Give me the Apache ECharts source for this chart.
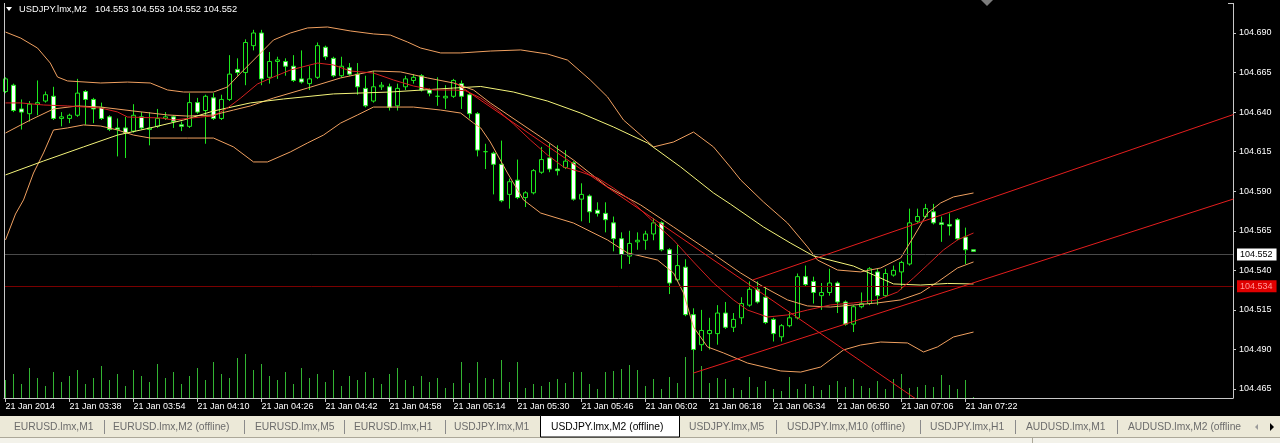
<!DOCTYPE html>
<html><head><meta charset="utf-8">
<script src="https://cdn.jsdelivr.net/npm/echarts@6/dist/echarts.min.js"></script>
<style>html,body{margin:0;padding:0;background:#000;overflow:hidden}#c{width:1280px;height:443px}</style>
</head><body><div id="c"></div>
<script>
// ---------- data ----------
const TIME_LABELS = ['21 Jan 2014','21 Jan 03:38','21 Jan 03:54','21 Jan 04:10','21 Jan 04:26','21 Jan 04:42','21 Jan 04:58','21 Jan 05:14','21 Jan 05:30','21 Jan 05:46','21 Jan 06:02','21 Jan 06:18','21 Jan 06:34','21 Jan 06:50','21 Jan 07:06','21 Jan 07:22'];
const LABEL_BARS = [0,8,16,24,32,40,48,56,64,72,80,88,96,104,112,120];
const PRICE_TICKS = [104.465,104.490,104.515,104.540,104.565,104.590,104.615,104.640,104.665,104.690];

const OPEN = [104.653,104.657,104.642,104.639,104.645,104.647,104.650,104.636,104.636,104.638,
104.653,104.648,104.643,104.637,104.630,104.630,104.628,104.637,104.629,104.631,
104.636,104.637,104.632,104.631,104.646,104.641,104.649,104.636,104.648,104.667,
104.665,104.682,104.690,104.662,104.672,104.672,104.669,104.661,104.658,104.662,
104.681,104.674,104.663,104.668,104.664,104.655,104.647,104.656,104.656,104.644,
104.656,104.660,104.663,104.654,104.650,104.649,104.650,104.658,104.651,104.639,
104.615,104.614,104.607,104.588,104.597,104.586,104.589,104.602,104.611,104.604,
104.605,104.608,104.585,104.587,104.578,104.576,104.570,104.560,104.549,104.558,
104.559,104.563,104.570,104.553,104.534,104.542,104.512,104.493,104.500,104.500,
104.513,104.504,104.510,104.518,104.528,104.523,104.509,104.498,104.505,104.510,
104.536,104.533,104.524,104.526,104.532,104.520,104.506,104.517,104.519,104.539,
104.524,104.537,104.539,104.544,104.571,104.574,104.577,104.570,104.569,104.572,
104.561,104.553];
const HIGH = [104.662,104.658,104.648,104.647,104.660,104.653,104.656,104.640,104.639,104.661,
104.654,104.649,104.646,104.638,104.636,104.637,104.645,104.640,104.640,104.642,
104.640,104.638,104.634,104.652,104.649,104.651,104.652,104.651,104.676,104.674,
104.686,104.692,104.692,104.678,104.675,104.674,104.676,104.679,104.669,104.684,
104.682,104.675,104.675,104.671,104.671,104.663,104.666,104.659,104.658,104.658,
104.663,104.664,104.664,104.655,104.662,104.657,104.661,104.660,104.652,104.640,
104.620,104.615,104.622,104.598,104.610,104.590,104.604,104.618,104.620,104.619,
104.616,104.609,104.595,104.588,104.583,104.583,104.574,104.564,104.565,104.564,
104.565,104.573,104.571,104.554,104.556,104.547,104.516,104.515,104.510,104.518,
104.520,104.513,104.523,104.533,104.533,104.530,104.510,104.506,104.514,104.538,
104.543,104.536,104.532,104.541,104.533,104.521,104.518,104.526,104.542,104.541,
104.541,104.543,104.546,104.579,104.579,104.582,104.582,104.574,104.576,104.573,
104.567,104.553];
const LOW = [104.652,104.640,104.629,104.634,104.638,104.646,104.635,104.631,104.633,104.637,
104.632,104.633,104.635,104.628,104.612,104.611,104.627,104.629,104.619,104.630,
104.635,104.630,104.628,104.630,104.639,104.620,104.635,104.635,104.647,104.663,
104.657,104.679,104.657,104.658,104.661,104.663,104.659,104.658,104.654,104.661,
104.673,104.662,104.662,104.663,104.651,104.643,104.646,104.654,104.641,104.641,
104.654,104.658,104.653,104.650,104.644,104.642,104.649,104.642,104.636,104.612,
104.604,104.588,104.583,104.579,104.585,104.580,104.588,104.601,104.602,104.600,
104.604,104.584,104.571,104.570,104.574,104.564,104.552,104.541,104.544,104.553,
104.553,104.559,104.552,104.525,104.533,104.511,104.489,104.489,104.490,104.493,
104.503,104.501,104.506,104.517,104.519,104.506,104.495,104.495,104.504,104.509,
104.530,104.519,104.515,104.524,104.513,104.505,104.501,104.516,104.518,104.518,
104.523,104.536,104.528,104.543,104.570,104.573,104.569,104.558,104.562,104.559,
104.544,104.552];
const CLOSE = [104.661,104.641,104.640,104.645,104.646,104.651,104.636,104.637,104.638,104.652,
104.648,104.642,104.636,104.629,104.629,104.627,104.638,104.630,104.630,104.636,
104.637,104.634,104.631,104.646,104.640,104.650,104.636,104.648,104.664,104.665,
104.684,104.690,104.661,104.672,104.673,104.669,104.660,104.659,104.661,104.682,
104.675,104.663,104.669,104.664,104.656,104.644,104.656,104.657,104.643,104.655,
104.661,104.662,104.654,104.652,104.650,104.650,104.660,104.650,104.639,104.616,
104.615,104.607,104.584,104.596,104.586,104.589,104.603,104.610,104.604,104.603,
104.609,104.585,104.588,104.577,104.576,104.572,104.560,104.550,104.557,104.559,
104.563,104.570,104.553,104.532,104.543,104.512,104.490,104.502,104.502,104.513,
104.504,104.509,104.519,104.528,104.520,104.507,104.500,104.505,104.510,104.536,
104.531,104.526,104.526,104.532,104.520,104.506,104.517,104.519,104.541,104.524,
104.538,104.540,104.545,104.570,104.574,104.579,104.570,104.569,104.568,104.560,
104.553,104.552];
const VOLUME = [18,24,14,30,20,12,26,16,22,28, 14,20,32,18,24,12,28,22,16,34,
20,26,14,22,30,18,36,24,20,40, 44,28,34,22,18,26,14,30,20,24,
16,28,12,22,18,26,20,14,24,30, 18,12,22,16,20,10,15,36,15,36,
20,19,38,16,36,10,14,12,16,19, 15,26,26,14,9,26,27,29,33,28,
12,19,9,21,15,41,48,32,15,20, 19,10,8,21,11,17,9,7,21,9,
14,12,8,13,17,11,19,12,10,17, 9,19,24,10,11,13,11,23,13,9,18,1];

const MA_YELLOW = [[0,104.6003],[4.75,104.6091],[9.75,104.6180],[14,104.6255],[18.1,104.6300],[22.25,104.6350],[26,104.6407],[30.6,104.6458],[34.75,104.6483],[41,104.6515],[48.1,104.6527],[56,104.6552],[59.4,104.6562],[63.5,104.6527],[67.75,104.6470],[71.9,104.6394],[76,104.6306],[80.25,104.6205],[84.4,104.6053],[88.5,104.5889],[90.6,104.5819],[94.75,104.5674],[98.1,104.5573],[101,104.5491],[106,104.5427],[108.5,104.5371],[111,104.5314],[114.4,104.5307],[117.75,104.5317],[121,104.5314]];
const MA_RED = [[0,104.6458],[1.9,104.6458],[4.75,104.6445],[7.75,104.6439],[11.9,104.6426],[14,104.6401],[15.25,104.6369],[19.4,104.6363],[21,104.6350],[24.4,104.6369],[26,104.6375],[27.75,104.6426],[29.4,104.6489],[31.5,104.6578],[33.5,104.6622],[35.6,104.6666],[39,104.6710],[41,104.6698],[43.1,104.6660],[46,104.6647],[48.5,104.6603],[51,104.6565],[53.5,104.6540],[56,104.6540],[57.5,104.6535],[59.4,104.6489],[61.5,104.6413],[63.5,104.6325],[65.6,104.6224],[67.75,104.6129],[69.75,104.6053],[71.9,104.6022],[74,104.5984],[76,104.5920],[78.1,104.5845],[81,104.5706],[83.5,104.5592],[86,104.5453],[88.5,104.5320],[91,104.5213],[92.75,104.5149],[95.25,104.5105],[97.75,104.5118],[100.25,104.5149],[103.1,104.5181],[106,104.5194],[109,104.5213],[111.5,104.5263],[113.5,104.5352],[115.25,104.5434],[117.25,104.5529],[119,104.5592],[121,104.5636]];
const BB_MID = [[0,104.6268],[3.1,104.6350],[6,104.6420],[9,104.6439],[11.9,104.6432],[16,104.6407],[20.25,104.6382],[22.75,104.6375],[26,104.6382],[28.5,104.6413],[30.6,104.6439],[33.5,104.6489],[37.75,104.6552],[41.9,104.6616],[46,104.6660],[49.4,104.6654],[52.75,104.6616],[56,104.6584],[58.5,104.6540],[60.6,104.6458],[66.9,104.6243],[71,104.6097],[75.25,104.5927],[79.4,104.5813],[83.5,104.5674],[87.75,104.5529],[91.9,104.5383],[94.75,104.5295],[97.75,104.5213],[100.25,104.5175],[103.1,104.5168],[106,104.5181],[109,104.5194],[111.9,104.5213],[114.4,104.5257],[116.5,104.5326],[119,104.5415],[121,104.5453]];
const BB_UP = [[0,104.6906],[1.9,104.6868],[4,104.6805],[5.6,104.6710],[6.5,104.6622],[7.75,104.6597],[11.9,104.6584],[15.25,104.6590],[18.1,104.6584],[20.25,104.6540],[22.25,104.6527],[26,104.6527],[27.75,104.6559],[29.4,104.6647],[31.9,104.6774],[33.5,104.6856],[35.6,104.6900],[37.75,104.6932],[40.25,104.6938],[43.1,104.6913],[46,104.6894],[48.1,104.6887],[50.25,104.6843],[51.9,104.6805],[54.4,104.6774],[56.9,104.6774],[60.6,104.6786],[64.4,104.6793],[67.75,104.6767],[70.25,104.6729],[73.1,104.6603],[75.25,104.6496],[77.25,104.6350],[79.4,104.6255],[81,104.6180],[83.5,104.6211],[86,104.6274],[88.5,104.6180],[90.6,104.6053],[91.9,104.5971],[94.75,104.5832],[97.75,104.5699],[100.25,104.5548],[101.5,104.5465],[104,104.5402],[106.9,104.5390],[109.4,104.5415],[111.9,104.5478],[113.5,104.5611],[115.25,104.5762],[116.9,104.5826],[118.5,104.5864],[121,104.5889]];
const BB_LOW = [[0,104.5592],[1.25,104.5756],[2.25,104.5845],[3.5,104.6015],[4.75,104.6142],[6,104.6287],[7.75,104.6300],[9.75,104.6319],[11.9,104.6312],[14,104.6287],[16,104.6255],[18.1,104.6236],[22.75,104.6236],[26,104.6236],[28.5,104.6180],[31,104.6085],[32.75,104.6085],[35.6,104.6148],[37.75,104.6205],[39.75,104.6255],[41.9,104.6331],[44,104.6382],[46,104.6432],[48.1,104.6432],[51,104.6432],[54.4,104.6413],[56.9,104.6394],[58.5,104.6331],[59.4,104.6300],[60.6,104.6211],[62.75,104.6015],[64.75,104.5845],[66.9,104.5762],[71,104.5699],[75.25,104.5592],[77.75,104.5510],[81.5,104.5465],[83.5,104.5383],[84.75,104.5257],[86,104.5042],[87.75,104.4916],[89.75,104.4878],[92.75,104.4814],[96.9,104.4764],[99.4,104.4757],[101.9,104.4789],[104.75,104.4897],[106.9,104.4928],[109.4,104.4947],[112.75,104.4941],[114.75,104.4884],[116.5,104.4916],[118.5,104.4979],[121,104.5010]];
const TREND_DOWN = [[56.25,104.6584],[116,104.4511]];
const CHANNEL_UP = [[93.4,104.5339],[153.5,104.6385]];
const CHANNEL_LOW = [[86,104.4751],[153.5,104.5851]];
const BID = 104.552;
const LEVEL = 104.534;
const TITLE_NAME = 'USDJPY.lmx,M2';
const TITLE_OHLC = '104.553 104.553 104.552 104.552';

const TAB_NAMES = ['EURUSD.lmx,M1','EURUSD.lmx,M2 (offline)','EURUSD.lmx,M5','EURUSD.lmx,H1','USDJPY.lmx,M1','USDJPY.lmx,M2 (offline)','USDJPY.lmx,M5','USDJPY.lmx,M10 (offline)','USDJPY.lmx,H1','AUDUSD.lmx,M1','AUDUSD.lmx,M2 (offline'];
const ACTIVE_TAB = 5;

// ---------- layout ----------
const TAB_X = [14,113,255,354,454,551,689,787,930,1026,1128];
const SEP_X = [104,244,344,445,776,920,1015,1117];
const FONT = '"Liberation Sans", Arial, sans-serif';
const GREEN = '#1ee81e';
const VOL_GREEN = '#32b432';

const chart = echarts.init(document.getElementById('c'), null, {renderer: 'canvas'});
const xMin = -0.1875, xMax = xMin + 1229 / 8;

function lineSeries(data, color, z) {
  return {type: 'line', data: data, showSymbol: false, symbol: 'none', silent: true,
    lineStyle: {color: color, width: 1}, z: z || 5, clip: true};
}

const candles = OPEN.map((o, i) => [i, o, CLOSE[i], LOW[i], HIGH[i]]);

const graphics = [];
graphics.push({type: 'line', shape: {x1: 4.5, y1: 3, x2: 4.5, y2: 398}, style: {stroke: '#c8c8c8', lineWidth: 1}, z: 100});
graphics.push({type: 'line', shape: {x1: 1228, y1: 3.5, x2: 1233.5, y2: 3.5}, style: {stroke: '#c8c8c8', lineWidth: 1}, z: 100});
graphics.push({type: 'line', shape: {x1: 1233.5, y1: 3, x2: 1233.5, y2: 5}, style: {stroke: '#c8c8c8', lineWidth: 1}, z: 100});
graphics.push({type: 'polygon', shape: {points: [[6, 7], [12, 7], [9, 11]]}, style: {fill: '#ffffff'}, z: 100});
graphics.push({type: 'text', x: 19, y: 9, style: {text: TITLE_NAME, fill: '#ffffff', font: '9.3px ' + FONT, verticalAlign: 'middle'}, z: 100});
graphics.push({type: 'text', x: 95, y: 9, style: {text: TITLE_OHLC, fill: '#ffffff', font: '9.3px ' + FONT, verticalAlign: 'middle'}, z: 100});
graphics.push({type: 'polygon', shape: {points: [[981, 0], [993, 0], [987, 6]]}, style: {fill: '#7c7c7c'}, z: 100});
graphics.push({type: 'rect', shape: {x: 0, y: 416, width: 1280, height: 22}, style: {fill: '#ece9d8'}, z: 90});
graphics.push({type: 'rect', shape: {x: 0, y: 438, width: 1280, height: 5}, style: {fill: '#f3f2ea'}, z: 90});
graphics.push({type: 'line', shape: {x1: 0, y1: 437.5, x2: 1280, y2: 437.5}, style: {stroke: '#aca899', lineWidth: 1}, z: 91});
graphics.push({type: 'line', shape: {x1: 1032.5, y1: 438, x2: 1032.5, y2: 443}, style: {stroke: '#aca899', lineWidth: 1}, z: 91});
graphics.push({type: 'rect', shape: {x: 540.5, y: 415.5, width: 139, height: 21.5}, style: {fill: '#ffffff', stroke: '#000000', lineWidth: 1}, z: 92});
TAB_NAMES.forEach((name, k) => {
  graphics.push({type: 'text', x: TAB_X[k], y: 427, style: {text: name, fill: k === ACTIVE_TAB ? '#000000' : '#6c6c6c', font: '10.3px ' + FONT, verticalAlign: 'middle'}, z: 95});
});
SEP_X.forEach(x => {
  graphics.push({type: 'line', shape: {x1: x + 0.5, y1: 420, x2: x + 0.5, y2: 434}, style: {stroke: '#8a8a8a', lineWidth: 1}, z: 95});
});
graphics.push({type: 'polygon', shape: {points: [[1258, 424], [1258, 430], [1255, 427]]}, style: {fill: '#9a9a9a'}, z: 95});
graphics.push({type: 'polygon', shape: {points: [[1270, 423], [1270, 431], [1274, 427]]}, style: {fill: '#000000'}, z: 95});

const option = {
  backgroundColor: '#000000',
  animation: false,
  grid: {left: 4, top: 4, width: 1229, height: 394, containLabel: false},
  xAxis: [{
    type: 'value', min: xMin, max: xMax,
    axisLine: {show: true, onZero: false, lineStyle: {color: '#c8c8c8', width: 1}},
    axisTick: {show: true, customValues: LABEL_BARS, length: 4, lineStyle: {color: '#c8c8c8'}},
    axisLabel: {customValues: LABEL_BARS, formatter: v => TIME_LABELS[LABEL_BARS.indexOf(Math.round(v))] || '',
      color: '#ffffff', fontSize: 9, fontFamily: FONT, align: 'left', margin: 4},
    splitLine: {show: false}
  }],
  yAxis: [{
    type: 'value', position: 'right', min: 104.45931, max: 104.70833, scale: true,
    axisLine: {show: true, onZero: false, lineStyle: {color: '#c8c8c8', width: 1}},
    axisTick: {show: true, customValues: PRICE_TICKS, length: 3, lineStyle: {color: '#c8c8c8'}},
    axisLabel: {customValues: PRICE_TICKS, formatter: v => Number(v).toFixed(3), color: '#ffffff', fontSize: 9, fontFamily: FONT, margin: 6},
    splitLine: {show: false}
  }, {
    type: 'value', min: 0, max: 394, show: false
  }],
  series: [
    {type: 'custom', yAxisIndex: 1, data: VOLUME.map((v, i) => [i, v]), silent: true, z: 1,
      encode: {x: 0, y: 1},
      renderItem: (params, api) => {
        const base = api.coord([api.value(0), 0]);
        const top = api.coord([api.value(0), api.value(1)]);
        const x = Math.floor(base[0]);
        return {type: 'rect', shape: {x: x, y: Math.round(top[1]), width: 1, height: Math.round(base[1]) - Math.round(top[1])},
          style: {fill: VOL_GREEN, stroke: null}};
      }},
    {type: 'candlestick', data: candles, barWidth: 4, silent: true,
      itemStyle: {color: '#000000', color0: '#ffffff', borderColor: GREEN, borderColor0: GREEN, borderColorDoji: GREEN, borderWidth: 1},
      z: 2},
    lineSeries(BB_UP, '#f0a060', 4),
    lineSeries(BB_MID, '#f0a060', 4),
    lineSeries(BB_LOW, '#f0a060', 4),
    lineSeries(MA_YELLOW, '#f4f47a', 5),
    lineSeries(MA_RED, '#d42020', 6),
    Object.assign(lineSeries(TREND_DOWN, '#e41e1e', 7), {
      markLine: {
        silent: true, symbol: ['none', 'none'], animation: false,
        data: [
          {yAxis: BID, lineStyle: {color: '#4a4a4a', width: 1, type: 'solid'},
            label: {show: true, position: 'end', distance: 4, formatter: BID.toFixed(3), color: '#000000', backgroundColor: '#ffffff', padding: [2, 4, 1, 3], fontSize: 9, fontFamily: FONT}},
          {yAxis: LEVEL, lineStyle: {color: '#7a0000', width: 1, type: 'solid'},
            label: {show: true, position: 'end', distance: 4, formatter: LEVEL.toFixed(3), color: '#ff9a9a', backgroundColor: '#e00000', padding: [2, 4, 1, 3], fontSize: 9, fontFamily: FONT}}
        ]
      }
    }),
    lineSeries(CHANNEL_UP, '#e41e1e', 7),
    lineSeries(CHANNEL_LOW, '#e41e1e', 7)
  ],
  graphic: {elements: graphics}
};
chart.setOption(option);
</script>
</body></html>
